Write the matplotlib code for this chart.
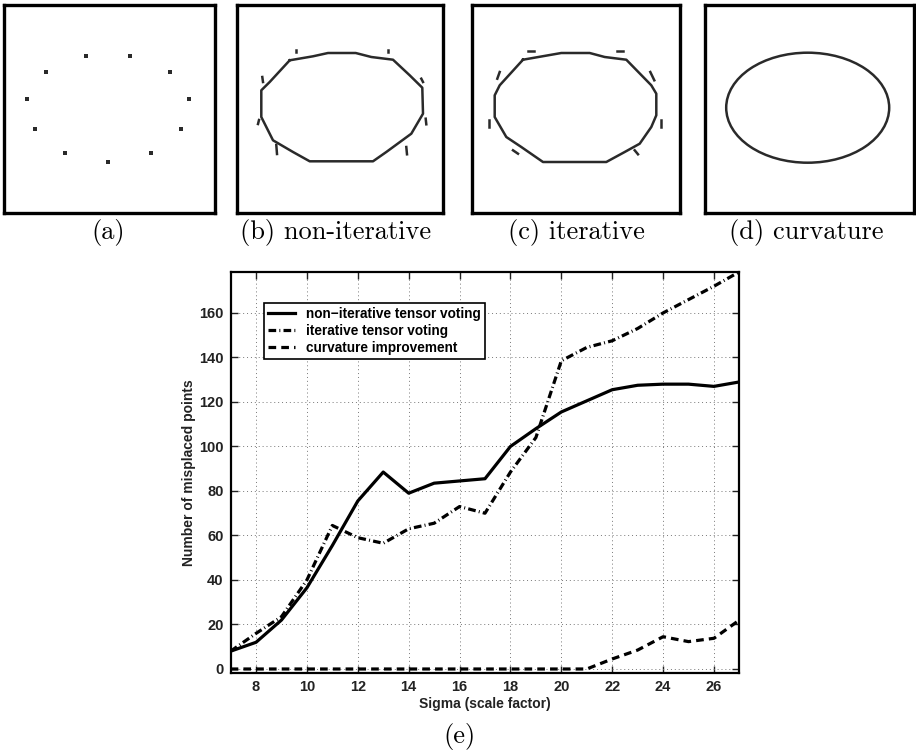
import matplotlib
matplotlib.use("Agg")
import matplotlib.pyplot as plt
from matplotlib.patches import Ellipse
import numpy as np

# ---------------- data ----------------
sigma = [7, 8, 9, 10, 11, 12, 13, 14, 15, 16, 17, 18, 19, 20, 21, 22, 23, 24, 25, 26, 27]
non_iterative = [8, 12, 22, 36.5, 55.5, 75.5, 88.5, 79, 83.5, 84.5, 85.5, 100, 108, 115.5, 120.5, 125.5, 127.5, 128, 128, 127, 129]
iterative = [8, 16, 23.5, 40, 64.5, 59, 56.5, 63, 65.5, 73, 70, 88.5, 104, 138.5, 144.5, 147.5, 153, 160, 166, 172, 178.5]
curvature = [0, 0, 0, 0, 0, 0, 0, 0, 0, 0, 0, 0, 0, 0, 0, 4.5, 8.5, 14.5, 12.3, 13.8, 22]
series_labels = ["non\u2212iterative tensor voting", "iterative tensor voting", "curvature improvement"]
x_ticks = [8, 10, 12, 14, 16, 18, 20, 22, 24, 26]
y_ticks = [0, 20, 40, 60, 80, 100, 120, 140, 160]
x_label = "Sigma (scale factor)"
y_label = "Number of misplaced points"
captions = ["(a)", "(b) non-iterative", "(c) iterative", "(d) curvature", "(e)"]

# panel (a): sparse input points (image pixel coordinates)
pts_a_x = [82, 126, 42, 166, 23, 185, 31, 177, 61, 147, 104]
pts_a_y = [51, 51, 67, 67, 94, 94, 124, 124, 148, 148, 157]

# panel (b): non-iterative outline + stray marks
outline_b_x = [52.7, 76, 91, 118.7, 134.3, 156, 172.7, 185.3, 186, 174.3, 149.3, 136, 72.7, 56, 36, 24.3, 24.3, 32.7, 52.7]
outline_b_y = [55.3, 51.3, 48, 48, 52, 54.7, 70.3, 82.7, 108.7, 128.7, 147, 156.3, 156.3, 147, 135.3, 112, 85.3, 77, 55.3]
marks_b = [((58.7, 45.5), (58.7, 47)), ((150.7, 45.5), (150.7, 47)),
           ((25.3, 72), (26, 77)), ((22, 115), (21, 119)), ((39.3, 140), (40, 149)),
           ((184.3, 73.7), (186, 77)), ((188.7, 113.7), (189.3, 119.3)), ((169.3, 142), (170, 149.3))]

# panel (c): iterative outline + stray marks
outline_c_x = [51, 89.3, 117.7, 132.7, 154.3, 179.3, 184.3, 184.3, 179.3, 167.7, 152.7, 134.3, 71, 49.3, 34.3, 22.7, 22.7, 27.7, 51]
outline_c_y = [54.7, 48, 48, 52, 54.7, 80.3, 88.7, 110.3, 122, 138.7, 147, 157, 157, 142, 132, 112, 90.3, 80.3, 54.7]
marks_c = [((56, 46), (61.7, 46)), ((145, 46), (151, 46)),
           ((27.7, 67), (25.3, 73.7)), ((17, 115.3), (17, 122)), ((41, 145.3), (46, 148.7)),
           ((178.3, 67), (182.3, 75.3)), ((189.3, 115.3), (189.3, 122)), ((162.7, 145.3), (166, 149.3))]

# panel (d): curvature result ellipse (center, width, height)
ell_d = (102.7, 102.7, 163, 110)

W, H = 916, 752
fig = plt.figure(figsize=(W / 100, H / 100), dpi=100)

frames = [(4, 5, 215, 213), (237, 5, 443, 213), (472, 5, 680, 213), (705, 5, 914, 213)]
panel_axes = []
for (l, t, r, b) in frames:
    ax = fig.add_axes([l / W, 1 - b / H, (r - l) / W, (b - t) / H])
    ax.set_xlim(0, r - l)
    ax.set_ylim(b - t, 0)
    ax.set_xticks([])
    ax.set_yticks([])
    for s in ax.spines.values():
        s.set_linewidth(2.4)
        s.set_color("black")
    panel_axes.append(ax)

ink = "#2a2a2a"
plw = 1.8
panel_axes[0].scatter(pts_a_x, pts_a_y, s=6, color=ink, marker="s", linewidths=0)
panel_axes[1].plot(outline_b_x, outline_b_y, color=ink, lw=plw)
for (p0, p1) in marks_b:
    panel_axes[1].plot([p0[0], p1[0]], [p0[1], p1[1]], color=ink, lw=plw)
panel_axes[2].plot(outline_c_x, outline_c_y, color=ink, lw=plw)
for (p0, p1) in marks_c:
    panel_axes[2].plot([p0[0], p1[0]], [p0[1], p1[1]], color=ink, lw=plw)
panel_axes[3].add_patch(Ellipse((ell_d[0], ell_d[1]), ell_d[2], ell_d[3], fill=False, ec=ink, lw=plw))

cap_x = [108, 336, 576, 806]
for cx, txt in zip(cap_x, captions[:4]):
    fig.text(cx / W, 1 - 232 / H, txt, ha="center", va="center", fontsize=19, family="cmr10")
fig.text(460 / W, 1 - 736 / H, captions[4], ha="center", va="center", fontsize=19, family="cmr10")

# ---------------- main chart ----------------
ax = fig.add_axes([230.6 / W, 1 - 673 / H, 508.8 / W, 401 / H])
lw = 2.3
ax.plot(sigma, non_iterative, color="black", lw=lw, linestyle="-", label=series_labels[0])
ax.plot(sigma, iterative, color="black", lw=lw, linestyle=(0, (2.4, 1.0, 0.3, 1.0)), label=series_labels[1])
ax.plot(sigma, curvature, color="black", lw=lw, linestyle=(0, (2.4, 1.6)), label=series_labels[2])

ax.set_xlim(7, 27)
ax.set_ylim(-1.8, 178.4)
ax.set_xticks(x_ticks)
ax.set_yticks(y_ticks)
ax.grid(True, linestyle=(0, (1, 3)), color="#777777", lw=0.7)
ax.tick_params(direction="in", top=True, right=True, length=5, width=1,
               labelsize=10.5, colors="#222222", pad=5)
for lab in ax.get_xticklabels() + ax.get_yticklabels():
    lab.set_fontweight("bold")
    lab.set_family("Liberation Sans")
for s in ax.spines.values():
    s.set_linewidth(1.6)
ax.set_xlabel(x_label, fontsize=10, fontweight="bold", family="Liberation Sans", color="#222222", labelpad=2)
ax.set_ylabel(y_label, fontsize=10, fontweight="bold", family="Liberation Sans", color="#222222", labelpad=2)

leg = ax.legend(loc="upper left", bbox_to_anchor=(0.0656, 0.9227), borderaxespad=0,
                fancybox=False, framealpha=1, edgecolor="black",
                prop={"family": "Liberation Sans", "weight": "bold", "size": 9.8},
                handlelength=2.0, labelspacing=0.22, borderpad=0.3, handletextpad=0.8)
leg.get_frame().set_linewidth(1.2)

fig.savefig("out.png", dpi=100)
